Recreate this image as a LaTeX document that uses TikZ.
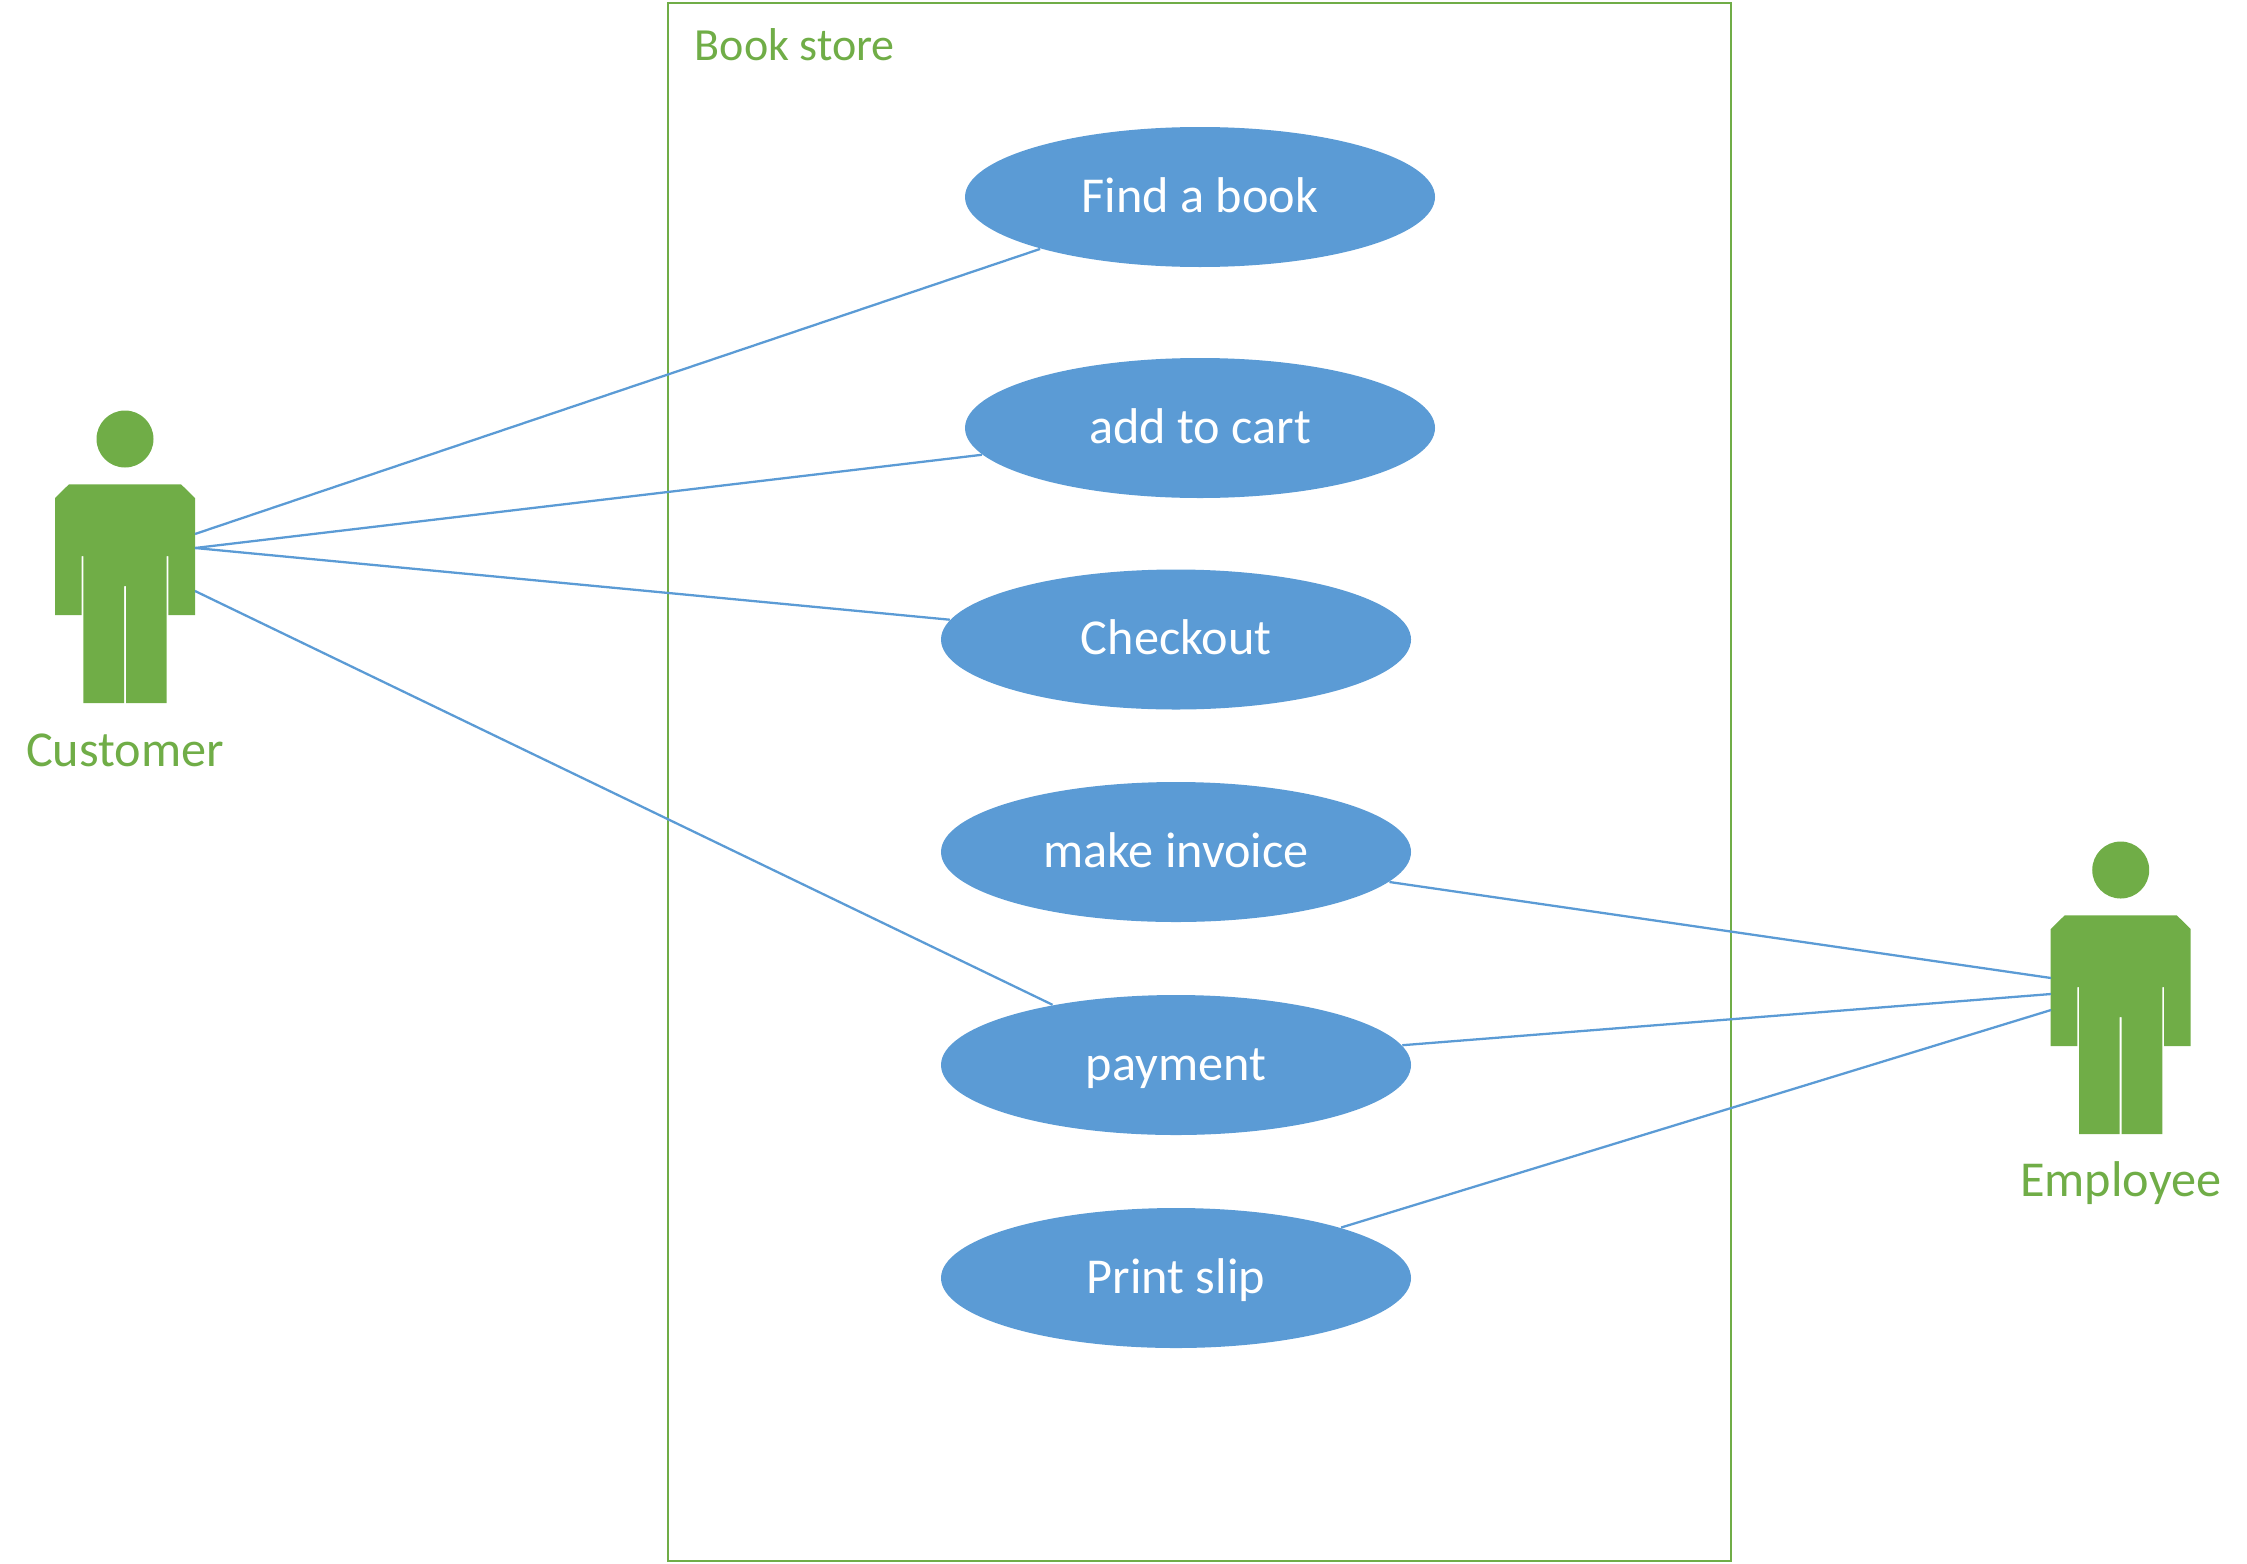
\documentclass[tikz,border=0pt]{standalone}
\usepackage{fontspec}
\setmainfont{Carlito}
\usetikzlibrary{shapes.geometric}
\definecolor{actorgreen}{HTML}{70AD47}
\definecolor{caseblue}{HTML}{5B9BD5}
\tikzset{
    usecase/.style={ellipse, fill=caseblue, text=white, minimum width=4.7cm, minimum height=1.4cm,
        inner sep=0pt, text height=0.3cm, text depth=0cm, font=\fontsize{14.3}{16}\selectfont},
    actorname/.style={text=actorgreen, anchor=base, inner sep=0pt, font=\fontsize{14.3}{16}\selectfont},
    assoc/.style={draw=caseblue, line width=0.65pt},
    pics/actor/.style={code={
        \node[circle, fill=actorgreen, minimum size=0.57cm, inner sep=0pt] (-head) at (0,0){};
        \fill[actorgreen] (-0.56,-0.453) -- (0.56,-0.453) -- (0.70,-0.59) -- (0.70,-1.76)
            -- (0.433,-1.76) -- (0.433,-1.17) -- (0.417,-1.17) -- (0.417,-2.64)
            -- (0.01,-2.64) -- (0.01,-1.47) -- (-0.01,-1.47) -- (-0.01,-2.64)
            -- (-0.417,-2.64) -- (-0.417,-1.17) -- (-0.433,-1.17) -- (-0.433,-1.76)
            -- (-0.70,-1.76) -- (-0.70,-0.59) -- cycle;
    }}
}
\begin{document}
\begin{tikzpicture}
    \useasboundingbox (0,0) rectangle (22.47,15.63);

    \draw[actorgreen, line width=0.65pt] (6.68,0.02) rectangle (17.31,15.60);
    \node[text=actorgreen, anchor=base west, inner sep=0pt, font=\fontsize{13.1}{15}\selectfont] (storename) at (6.94,15.02){Book store};

    \node[usecase] (findbook) at (12.00,13.66){Find a book};
    \node[usecase] (addcart) at (12.00,11.35){add to cart};
    \node[usecase] (checkout) at (11.76,9.235){Checkout};
    \node[usecase] (invoice) at (11.76,7.11){make invoice};
    \node[usecase] (payment) at (11.76,4.98){payment};
    \node[usecase] (slip) at (11.76,2.85){Print slip};

    \pic (cust) at (1.25,11.24) {actor};
    \node[actorname] (custname) at (1.25,7.97){Customer};
    \coordinate (custa) at (1.95,10.29);
    \coordinate (custb) at (1.95,10.15);
    \coordinate (custc) at (1.95,9.72);

    \pic (empl) at (21.207,6.93) {actor};
    \node[actorname] (emplname) at (21.207,3.67){Employee};
    \coordinate (empla) at (20.51,5.85);
    \coordinate (emplb) at (20.51,5.69);
    \coordinate (emplc) at (20.51,5.53);

    \draw[assoc] (custa) -- (findbook.198.8);
    \draw[assoc] (custb) -- (addcart.187.6);
    \draw[assoc] (custb) -- (checkout.175.5);
    \draw[assoc] (custc) -- (payment.154.4);

    \draw[assoc] (empla) -- (invoice.-8.9);
    \draw[assoc] (emplb) -- (payment.5.5);
    \draw[assoc] (emplc) -- (slip.17);
\end{tikzpicture}
\end{document}
